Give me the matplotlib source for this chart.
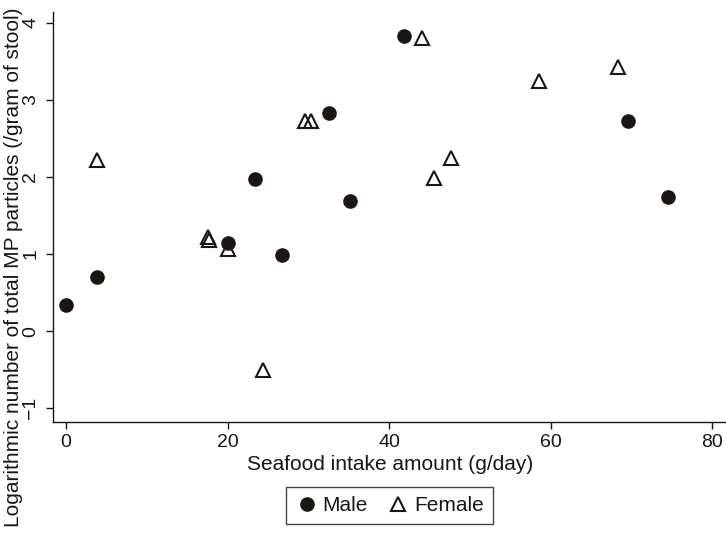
import matplotlib
matplotlib.use("Agg")
import matplotlib.pyplot as plt

plt.rcParams['font.family'] = ['Liberation Sans', 'DejaVu Sans']

male_x = [0, 3.9, 20.1, 23.4, 26.8, 32.5, 35.1, 41.9, 69.6, 74.5]
male_y = [0.34, 0.70, 1.14, 1.97, 0.99, 2.83, 1.68, 3.82, 2.72, 1.74]
female_x = [3.9, 17.6, 17.7, 20.0, 24.4, 29.6, 30.3, 44.1, 45.5, 47.7, 58.5, 68.3]
female_y = [2.22, 1.22, 1.18, 1.07, -0.50, 2.72, 2.73, 3.80, 1.99, 2.24, 3.24, 3.42]
xticks = [0, 20, 40, 60, 80]
yticks = [-1, 0, 1, 2, 3, 4]

col = '#1c1512'
fig = plt.figure(figsize=(7.26, 5.34), dpi=100)
ax = fig.add_axes([0.0734, 0.2103, 0.9266, 0.7677])
ax.plot(male_x, male_y, 'o', color=col, markersize=9.5, linestyle='none', label='Male')
ax.plot(female_x, female_y, '^', markerfacecolor='none', markeredgecolor=col,
        markeredgewidth=1.5, markersize=10, linestyle='none', label='Female')
ax.set_xlim(-1.57, 81.7)
ax.set_ylim(-1.175, 4.14)
ax.set_xticks(xticks)
ax.set_yticks(yticks)
for s in ['top', 'right']:
    ax.spines[s].set_visible(False)
for s in ['left', 'bottom']:
    ax.spines[s].set_color(col)
    ax.spines[s].set_linewidth(1.0)
ax.tick_params(direction='out', length=5, width=1.0, color=col, labelsize=14, labelcolor=col)
ax.tick_params(axis='y', pad=5)
for lab in ax.get_yticklabels():
    lab.set_rotation(90)
    lab.set_va('center')
ax.set_xlabel('Seafood intake amount (g/day)', fontsize=15, color=col, labelpad=3)
fig.text(14 / 726, 0.5, 'Logarithmic number of total MP particles (/gram of stool)',
         rotation=90, ha='center', va='center', fontsize=15, color=col)
leg = fig.legend(loc='center', bbox_to_anchor=(0.5365, 0.0534), ncol=2, fontsize=15,
                 frameon=True, fancybox=False, edgecolor=col, handletextpad=0.2,
                 columnspacing=0.9, borderpad=0.45, handlelength=1.1)
leg.get_frame().set_linewidth(1.0)
for t in leg.get_texts():
    t.set_color(col)
fig.savefig('out.png', dpi=100)
